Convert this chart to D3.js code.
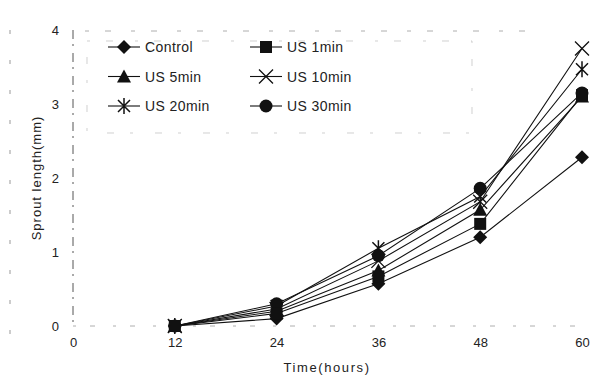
<!DOCTYPE html>
<html>
<head>
<meta charset="utf-8">
<script src="https://cdn.jsdelivr.net/npm/d3@7"></script>
<style>
body { margin: 0; background: #fff; }
text { font-family: "Liberation Sans", Arial, sans-serif; fill: #222; }
</style>
</head>
<body>
<div id="chart"></div>
<script>
// sprout length (mm) at each sampling time
var hours = [12, 24, 36, 48, 60];
var control = [0, 0.10, 0.57, 1.20, 2.28];
var us1 = [0, 0.17, 0.67, 1.38, 3.12];
var us5 = [0, 0.20, 0.75, 1.57, 3.10];
var us10 = [0, 0.23, 0.88, 1.68, 3.75];
var us20 = [0, 0.27, 1.05, 1.75, 3.47];
var us30 = [0, 0.30, 0.95, 1.86, 3.15];

var seriesNames = ["Control", "US 1min", "US 5min", "US 10min", "US 20min", "US 30min"];
var seriesShapes = ["diamond", "square", "triangle", "cross", "asterisk", "circle"];
var seriesValues = [control, us1, us5, us10, us20, us30];

var xTicks = [0, 12, 24, 36, 48, 60];
var yTicks = [0, 1, 2, 3, 4];

var width = 601, height = 378;

var svg = d3.select("#chart")
	.append("svg")
	.attr("width", width)
	.attr("height", height);

var x = d3.scaleLinear().domain([0, 60]).range([73, 582]);
var y = d3.scaleLinear().domain([0, 4]).range([326, 30]);

// scanned frame, broken lines
svg.append("line")
	.attr("x1", x(0)).attr("x2", x(0))
	.attr("y1", y(4)).attr("y2", y(0))
	.attr("stroke", "#555").attr("stroke-width", 1)
	.attr("stroke-dasharray", "9,5,2,7");
svg.append("line")
	.attr("x1", x(0)).attr("x2", 590)
	.attr("y1", y(0)).attr("y2", y(0))
	.attr("stroke", "#999").attr("stroke-width", 0.8)
	.attr("stroke-dasharray", "3,14,5,18");
svg.append("line")
	.attr("x1", 85).attr("x2", 530)
	.attr("y1", 31).attr("y2", 31)
	.attr("stroke", "#999").attr("stroke-width", 0.8)
	.attr("stroke-dasharray", "4,16,6,20");
svg.append("line")
	.attr("x1", 10).attr("x2", 10)
	.attr("y1", 30).attr("y2", 360)
	.attr("stroke", "#999").attr("stroke-width", 1)
	.attr("stroke-dasharray", "4,26");

// legend frame
svg.append("rect")
	.attr("x", 87).attr("y", 41)
	.attr("width", 385).attr("height", 92)
	.attr("fill", "none")
	.attr("stroke", "#bbb").attr("stroke-width", 0.7)
	.attr("stroke-dasharray", "3,16,7,22");

// axis tick labels
var xAxis = d3.axisBottom(x).tickValues(xTicks).tickSize(0).tickPadding(12).tickFormat(d3.format("d"));
var gx = svg.append("g").attr("transform", "translate(0," + y(0) + ")").call(xAxis);
gx.select(".domain").remove();
gx.selectAll("text").style("font-size", "13px").style("font-family", "Liberation Sans, Arial, sans-serif").attr("fill", "#222");

var yAxis = d3.axisLeft(y).tickValues(yTicks).tickSize(0).tickPadding(14).tickFormat(d3.format("d"));
var gy = svg.append("g").attr("transform", "translate(" + x(0) + ",0)").call(yAxis);
gy.select(".domain").remove();
gy.selectAll("text").style("font-size", "13px").style("font-family", "Liberation Sans, Arial, sans-serif").attr("fill", "#222");

// axis titles
svg.append("text")
	.attr("x", 327).attr("y", 372)
	.attr("text-anchor", "middle")
	.style("font-size", "13px")
	.style("letter-spacing", "1.6px")
	.text("Time(hours)");

svg.append("text")
	.attr("transform", "translate(41,178) rotate(-90)")
	.attr("text-anchor", "middle")
	.style("font-size", "13px")
	.style("letter-spacing", "1px")
	.text("Sprout length(mm)");

// marker drawing
function drawMarker(g, shape, cx, cy) {
	if (shape == "diamond") {
		g.append("path").attr("d", "M0,-7L7,0L0,7L-7,0Z").attr("transform", "translate(" + cx + "," + cy + ")").attr("fill", "#111");
	} else if (shape == "square") {
		g.append("rect").attr("x", cx - 6).attr("y", cy - 6).attr("width", 12).attr("height", 12).attr("fill", "#111");
	} else if (shape == "triangle") {
		g.append("path").attr("d", "M0,-7L7,6L-7,6Z").attr("transform", "translate(" + cx + "," + cy + ")").attr("fill", "#111");
	} else if (shape == "circle") {
		g.append("circle").attr("cx", cx).attr("cy", cy).attr("r", 6.5).attr("fill", "#111");
	} else if (shape == "cross") {
		g.append("path").attr("d", "M-7,-7L7,7M-7,7L7,-7").attr("transform", "translate(" + cx + "," + cy + ")").attr("stroke", "#111").attr("stroke-width", 1.3).attr("fill", "none");
	} else if (shape == "asterisk") {
		g.append("path").attr("d", "M-6,-6L6,6M-6,6L6,-6M0,-8L0,8").attr("transform", "translate(" + cx + "," + cy + ")").attr("stroke", "#111").attr("stroke-width", 1.5).attr("fill", "none");
	}
}

var line = d3.line()
	.x(function(d, i) { return x(hours[i]); })
	.y(function(d) { return y(d); });

// lines first, then markers
seriesValues.forEach(function(vals) {
	svg.append("path")
		.attr("d", line(vals))
		.attr("fill", "none")
		.attr("stroke", "#111")
		.attr("stroke-width", 1.1);
});

// square series drawn last so it sits on top at 12 h
var drawOrder = [0, 2, 3, 4, 5, 1];
var markers = svg.append("g");
drawOrder.forEach(function(s) {
	seriesValues[s].forEach(function(v, i) {
		drawMarker(markers, seriesShapes[s], x(hours[i]), y(v));
	});
});

// legend, two columns three rows
var legend = svg.append("g");
seriesNames.forEach(function(name, i) {
	var col = i % 2;
	var row = Math.floor(i / 2);
	var lx = col == 0 ? 108 : 250;
	var ly = 47 + row * 29.5;
	legend.append("line")
		.attr("x1", lx).attr("x2", lx + 32)
		.attr("y1", ly).attr("y2", ly)
		.attr("stroke", "#111").attr("stroke-width", 1.1);
	drawMarker(legend, seriesShapes[i], lx + 16, ly);
	legend.append("text")
		.attr("x", lx + 37).attr("y", ly + 5)
		.style("font-size", "14px")
		.style("letter-spacing", "0.4px")
		.text(name);
});
</script>
</body>
</html>
